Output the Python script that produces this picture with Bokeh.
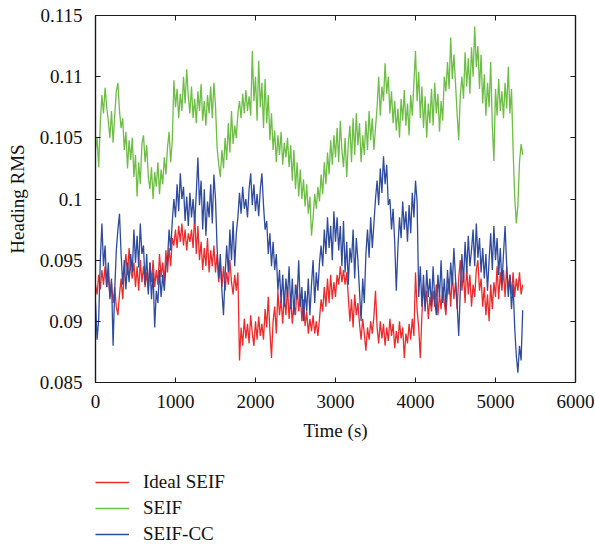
from bokeh.plotting import figure
from bokeh.layouts import column
from bokeh.models import (Range1d, FixedTicker, CustomJSTickFormatter, LinearAxis,
                          Legend, LegendItem)
from bokeh.embed import file_html
from bokeh.resources import INLINE

# ---------------- data ----------------
time_s = list(range(0, 5341, 20))

seif = [
    0.1040, 0.1050, 0.1026, 0.1062, 0.1085, 0.1070, 0.1091, 0.1075, 0.1064, 0.1050, 0.1072, 0.1046, 0.1068, 0.1088, 0.1095,
    0.1072, 0.1058, 0.1066, 0.1040, 0.1055, 0.1025, 0.1048, 0.1032, 0.1050, 0.1018, 0.1036, 0.1002, 0.1030, 0.1012, 0.1045,
    0.1052, 0.1030, 0.1044, 0.1018, 0.1008, 0.1026, 0.1000, 0.1022, 0.1010, 0.1030, 0.1004, 0.1024, 0.1012, 0.1034, 0.1020,
    0.1042, 0.1055, 0.1030, 0.1048, 0.1097, 0.1075, 0.1090, 0.1066, 0.1086, 0.1072, 0.1100, 0.1078, 0.1106, 0.1084, 0.1070,
    0.1092, 0.1066, 0.1082, 0.1062, 0.1088, 0.1072, 0.1094, 0.1064, 0.1080, 0.1060, 0.1085, 0.1070, 0.1092, 0.1066, 0.1095,
    0.1076, 0.1042, 0.1028, 0.1018, 0.1040, 0.1025, 0.1050, 0.1032, 0.1062, 0.1038, 0.1072, 0.1045, 0.1060, 0.1050, 0.1070,
    0.1080, 0.1066, 0.1086, 0.1070, 0.1089, 0.1072, 0.1084, 0.1068, 0.1121, 0.1080, 0.1100, 0.1064, 0.1113, 0.1075, 0.1095,
    0.1058, 0.1098, 0.1062, 0.1085, 0.1048, 0.1070, 0.1040, 0.1056, 0.1030, 0.1052, 0.1036, 0.1055, 0.1028, 0.1046, 0.1034,
    0.1050, 0.1026, 0.1044, 0.1015, 0.1040, 0.1008, 0.1030, 0.1002, 0.1024, 0.1000, 0.1016, 0.0994, 0.1012, 0.0988, 0.1002,
    0.0970, 0.0985, 0.1004, 0.0992, 0.1010, 0.0998, 0.1020, 0.1004, 0.1030, 0.1012, 0.1038, 0.1020, 0.1048, 0.1028, 0.1052,
    0.1034, 0.1058, 0.1030, 0.1064, 0.1040, 0.1026, 0.1050, 0.1018, 0.1045, 0.1060, 0.1030, 0.1066, 0.1036, 0.1070, 0.1044,
    0.1062, 0.1030, 0.1052, 0.1036, 0.1064, 0.1040, 0.1072, 0.1048, 0.1066, 0.1040, 0.1058, 0.1075, 0.1100, 0.1068, 0.1092,
    0.1080, 0.1111, 0.1086, 0.1100, 0.1070, 0.1088, 0.1062, 0.1080, 0.1056, 0.1074, 0.1050, 0.1082, 0.1064, 0.1089, 0.1060,
    0.1078, 0.1052, 0.1085, 0.1068, 0.1095, 0.1121, 0.1080, 0.1104, 0.1066, 0.1092, 0.1058, 0.1084, 0.1050, 0.1078, 0.1062,
    0.1090, 0.1060, 0.1095, 0.1070, 0.1086, 0.1055, 0.1080, 0.1064, 0.1100, 0.1088, 0.1112, 0.1090, 0.1132, 0.1098, 0.1118,
    0.1095, 0.1070, 0.1048, 0.1085, 0.1100, 0.1082, 0.1120, 0.1092, 0.1115, 0.1086, 0.1124, 0.1100, 0.1141, 0.1108, 0.1125,
    0.1090, 0.1118, 0.1078, 0.1102, 0.1068, 0.1095, 0.1075, 0.1112, 0.1060, 0.1031, 0.1090, 0.1068, 0.1098, 0.1072, 0.1088,
    0.1066, 0.1095, 0.1074, 0.1108, 0.1070, 0.1090, 0.1040, 0.1002, 0.0980, 0.0995, 0.1030, 0.1045, 0.1036,
]

seif_cc = [
    0.0915, 0.0885, 0.0902, 0.0950, 0.0980, 0.0945, 0.0962, 0.0928, 0.0948, 0.0918, 0.0935, 0.0880, 0.0925, 0.0958, 0.0975,
    0.0988, 0.0955, 0.0930, 0.0950, 0.0926, 0.0948, 0.0932, 0.0955, 0.0940, 0.0975, 0.0948, 0.0970, 0.0944, 0.0980, 0.0955,
    0.0962, 0.0930, 0.0955, 0.0922, 0.0948, 0.0918, 0.0940, 0.0895, 0.0925, 0.0915, 0.0942, 0.0920, 0.0938, 0.0925, 0.0945,
    0.0950, 0.0975, 0.0958, 0.0982, 0.1000, 0.0985, 0.1012, 0.0990, 0.1021, 0.1000, 0.1010, 0.0982, 0.1002, 0.0978, 0.1005,
    0.0985, 0.1000, 0.0980, 0.1005, 0.1034, 0.0995, 0.1015, 0.0975, 0.1008, 0.0970, 0.0998, 0.0985, 0.1012, 0.0980, 0.1020,
    0.1000, 0.0960, 0.0935, 0.0955, 0.0925, 0.0905, 0.0938, 0.0962, 0.0940, 0.0975, 0.0950, 0.0982, 0.0945, 0.0972, 0.0985,
    0.1005, 0.0988, 0.1010, 0.0992, 0.1000, 0.0985, 0.1008, 0.1021, 0.0995, 0.1012, 0.0990, 0.1004, 0.0986, 0.1008, 0.1021,
    0.0995, 0.0975, 0.0982, 0.0955, 0.0972, 0.0945, 0.0965, 0.0942, 0.0955, 0.0925, 0.0942, 0.0915, 0.0938, 0.0912, 0.0935,
    0.0920, 0.0945, 0.0910, 0.0935, 0.0905, 0.0930, 0.0918, 0.0950, 0.0912, 0.0928, 0.0900, 0.0925, 0.0908, 0.0935, 0.0905,
    0.0930, 0.0950, 0.0915, 0.0940, 0.0925, 0.0948, 0.0962, 0.0945, 0.0975, 0.0955, 0.0985, 0.0960, 0.0978, 0.0950, 0.0990,
    0.0965, 0.0985, 0.0958, 0.0978, 0.0945, 0.0982, 0.0940, 0.0965, 0.0930, 0.0960, 0.0948, 0.0975, 0.0935, 0.0968, 0.0950,
    0.0925, 0.0900, 0.0935, 0.0915, 0.0955, 0.0975, 0.0952, 0.0985, 0.0960, 0.0980, 0.1000, 0.1015, 0.0995, 0.1025, 0.1005,
    0.1035, 0.1012, 0.1028, 0.0995, 0.1000, 0.0975, 0.0992, 0.0965, 0.0925, 0.0960, 0.0985, 0.0968, 0.0998, 0.0975, 0.0990,
    0.0965, 0.0995, 0.0972, 0.1005, 0.0985, 0.1015, 0.0998, 0.0920, 0.0945, 0.0912, 0.0938, 0.0908, 0.0942, 0.0920, 0.0935,
    0.0912, 0.0945, 0.0918, 0.0905, 0.0938, 0.0920, 0.0950, 0.0915, 0.0935, 0.0910, 0.0942, 0.0922, 0.0948, 0.0930, 0.0960,
    0.0935, 0.0915, 0.0888, 0.0925, 0.0955, 0.0932, 0.0965, 0.0940, 0.0970, 0.0945, 0.0958, 0.0975, 0.0945, 0.0980, 0.0952,
    0.0968, 0.0940, 0.0960, 0.0935, 0.0955, 0.0925, 0.0950, 0.0972, 0.0942, 0.0978, 0.0950, 0.0968, 0.0938, 0.0960, 0.0930,
    0.0955, 0.0978, 0.0945, 0.0920, 0.0938, 0.0910, 0.0930, 0.0895, 0.0872, 0.0858, 0.0880, 0.0868, 0.0909,
]

ideal_seif = [
    0.0930, 0.0922, 0.0938, 0.0926, 0.0942, 0.0930, 0.0945, 0.0928, 0.0938, 0.0920, 0.0932, 0.0915, 0.0928, 0.0912, 0.0905,
    0.0922, 0.0935, 0.0918, 0.0940, 0.0955, 0.0938, 0.0960, 0.0942, 0.0935, 0.0948, 0.0928, 0.0945, 0.0925, 0.0950, 0.0932,
    0.0945, 0.0928, 0.0940, 0.0925, 0.0948, 0.0932, 0.0950, 0.0928, 0.0942, 0.0930, 0.0955, 0.0936, 0.0948, 0.0932, 0.0958,
    0.0940, 0.0960, 0.0945, 0.0968, 0.0962, 0.0975, 0.0960, 0.0978, 0.0965, 0.0980, 0.0962, 0.0975, 0.0958, 0.0972, 0.0965,
    0.0975, 0.0960, 0.0988, 0.0955, 0.0978, 0.0950, 0.0965, 0.0942, 0.0960, 0.0945, 0.0968, 0.0940, 0.0958, 0.0945, 0.0962,
    0.0940, 0.0955, 0.0932, 0.0948, 0.0928, 0.0945, 0.0925, 0.0940, 0.0930, 0.0950, 0.0932, 0.0922, 0.0938, 0.0925, 0.0940,
    0.0868, 0.0895, 0.0880, 0.0902, 0.0886, 0.0898, 0.0882, 0.0905, 0.0890, 0.0880, 0.0900, 0.0885, 0.0904, 0.0888, 0.0898,
    0.0885, 0.0910, 0.0895, 0.0920, 0.0892, 0.0870, 0.0900, 0.0912, 0.0890, 0.0925, 0.0905, 0.0918, 0.0898, 0.0922, 0.0905,
    0.0928, 0.0902, 0.0920, 0.0898, 0.0915, 0.0905, 0.0930, 0.0908, 0.0922, 0.0900, 0.0918, 0.0896, 0.0908, 0.0890, 0.0902,
    0.0892, 0.0905, 0.0890, 0.0900, 0.0888, 0.0902, 0.0918, 0.0908, 0.0928, 0.0912, 0.0935, 0.0915, 0.0938, 0.0918, 0.0932,
    0.0920, 0.0938, 0.0930, 0.0945, 0.0932, 0.0942, 0.0930, 0.0940, 0.0920, 0.0900, 0.0918, 0.0895, 0.0922, 0.0905, 0.0915,
    0.0898, 0.0885, 0.0902, 0.0890, 0.0876, 0.0895, 0.0885, 0.0900, 0.0890, 0.0904, 0.0925, 0.0895, 0.0882, 0.0900, 0.0886,
    0.0898, 0.0880, 0.0895, 0.0884, 0.0902, 0.0888, 0.0898, 0.0878, 0.0892, 0.0882, 0.0900, 0.0886, 0.0895, 0.0870, 0.0890,
    0.0882, 0.0898, 0.0885, 0.0902, 0.0888, 0.0940, 0.0910, 0.0895, 0.0870, 0.0905, 0.0930, 0.0912, 0.0925, 0.0902, 0.0920,
    0.0908, 0.0925, 0.0912, 0.0930, 0.0905, 0.0922, 0.0910, 0.0928, 0.0915, 0.0905, 0.0925, 0.0935, 0.0912, 0.0940, 0.0918,
    0.0932, 0.0910, 0.0935, 0.0950, 0.0925, 0.0940, 0.0915, 0.0945, 0.0922, 0.0938, 0.0912, 0.0930, 0.0920, 0.0942, 0.0950,
    0.0925, 0.0935, 0.0912, 0.0928, 0.0905, 0.0922, 0.0900, 0.0930, 0.0910, 0.0932, 0.0920, 0.0945, 0.0918, 0.0940, 0.0925,
    0.0942, 0.0920, 0.0945, 0.0925, 0.0938, 0.0922, 0.0940, 0.0920, 0.0935, 0.0925, 0.0940, 0.0922, 0.0930,
]

x_ticks = [0, 1000, 2000, 3000, 4000, 5000, 6000]
y_ticks = [0.085, 0.09, 0.095, 0.1, 0.105, 0.11, 0.115]
series_names = ["Ideal SEIF", "SEIF", "SEIF-CC"]
series_colors = ["#EE2B2B", "#6DBE45", "#2E4B9E"]

# ---------------- main figure ----------------
FONT = "Liberation Serif"
AXIS_COLOR = "#1a1a1a"
TEXT_COLOR = "#111111"

p = figure(width=595, height=450, output_backend="svg", toolbar_location=None,
           x_range=Range1d(0, 6000), y_range=Range1d(0.085, 0.115),
           min_border_left=95, min_border_right=20, min_border_top=15,
           min_border_bottom=68)
p.grid.visible = False
p.outline_line_color = AXIS_COLOR
p.outline_line_width = 1.2
p.background_fill_color = "white"
p.border_fill_color = "white"

for vals, col in zip([ideal_seif, seif, seif_cc], series_colors):
    p.line(time_s, vals, line_color=col, line_width=1.3)


def style_axis(ax):
    ax.axis_line_color = AXIS_COLOR
    ax.axis_line_width = 1.2
    ax.major_tick_line_color = AXIS_COLOR
    ax.major_tick_line_width = 1
    ax.major_tick_in = 5
    ax.major_tick_out = 0
    ax.minor_tick_line_color = None
    ax.major_label_text_font = FONT
    ax.major_label_text_font_size = "19px"
    ax.major_label_text_color = TEXT_COLOR
    ax.axis_label_text_font = FONT
    ax.axis_label_text_font_size = "19px"
    ax.axis_label_text_font_style = "normal"
    ax.axis_label_text_color = TEXT_COLOR


p.xaxis.ticker = FixedTicker(ticks=x_ticks)
p.yaxis.ticker = FixedTicker(ticks=y_ticks)
p.yaxis.formatter = CustomJSTickFormatter(code="return String(Number(tick.toFixed(4)));")
p.xaxis.axis_label = "Time (s)"
p.yaxis.axis_label = "Heading RMS"
style_axis(p.xaxis[0])
style_axis(p.yaxis[0])
p.xaxis.major_label_standoff = 12
p.yaxis.major_label_standoff = 13
p.xaxis.axis_label_standoff = 9
p.yaxis.axis_label_standoff = 9

blank = CustomJSTickFormatter(code="return '';")
top_ax = LinearAxis(ticker=FixedTicker(ticks=x_ticks), formatter=blank)
style_axis(top_ax)
p.add_layout(top_ax, "above")
right_ax = LinearAxis(ticker=FixedTicker(ticks=y_ticks), formatter=blank)
style_axis(right_ax)
p.add_layout(right_ax, "right")

# ---------------- legend strip below the plot ----------------
leg_fig = figure(width=595, height=95, output_backend="svg", toolbar_location=None,
                 x_range=Range1d(0, 1), y_range=Range1d(0, 1),
                 x_axis_location=None, y_axis_location=None,
                 min_border=0, min_border_left=0, min_border_right=0,
                 min_border_top=0, min_border_bottom=0)
leg_fig.grid.visible = False
leg_fig.outline_line_color = None
leg_fig.background_fill_color = "white"
leg_fig.border_fill_color = "white"

nan = float("nan")
leg_renderers = [leg_fig.line([nan], [nan], line_color=c, line_width=1.3) for c in series_colors]
legend = Legend(items=[LegendItem(label=n, renderers=[r]) for n, r in zip(series_names, leg_renderers)],
                location=(0, 0), orientation="vertical",
                glyph_width=34, glyph_height=20, label_height=20, spacing=4,
                label_standoff=14, padding=0, margin=0,
                border_line_color=None, background_fill_alpha=0,
                label_text_font=FONT, label_text_font_size="19px",
                label_text_color=TEXT_COLOR)
leg_fig.add_layout(legend, "center")

layout = column(p, leg_fig, spacing=0)
open("out.html", "w").write(file_html(layout, INLINE))
